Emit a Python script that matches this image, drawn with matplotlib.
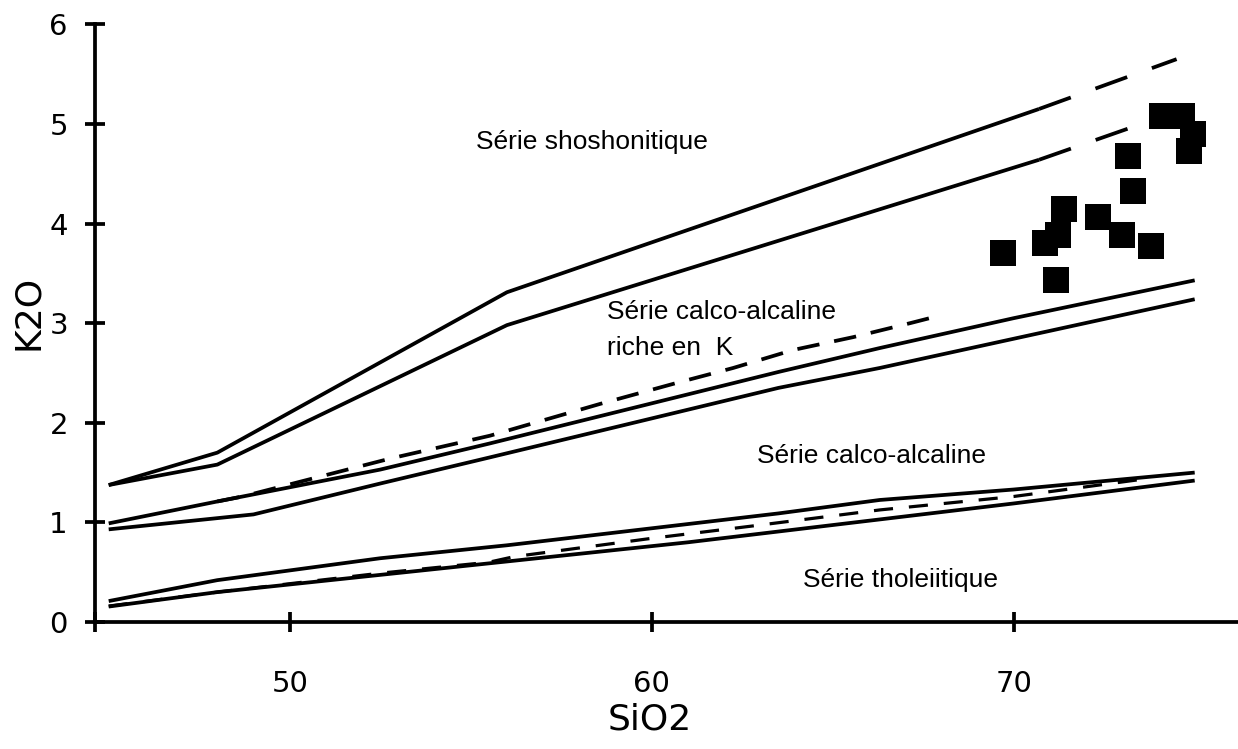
import matplotlib
matplotlib.use("Agg")
import matplotlib.pyplot as plt

# boundary lines (SiO2, K2O)
shosho_up_x = [45, 48, 56, 70.7]
shosho_up_y = [1.375, 1.70, 3.31, 5.15]
shosho_up_ext_x = [70.7, 74.5]
shosho_up_ext_y = [5.15, 5.65]

shosho_lo_x = [45, 48, 56, 70.7]
shosho_lo_y = [1.375, 1.58, 2.98, 4.64]
shosho_lo_ext_x = [70.7, 75.1]
shosho_lo_ext_y = [4.64, 5.2]

hk_up_x = [45, 48, 52.5, 55.5, 63.5, 66.3, 70, 75]
hk_up_y = [0.99, 1.21, 1.53, 1.79, 2.51, 2.75, 3.05, 3.43]
hk_lo_x = [45, 49, 52.5, 55.5, 63.5, 66.3, 75]
hk_lo_y = [0.93, 1.08, 1.39, 1.65, 2.35, 2.55, 3.24]
hk_dash_x = [48, 48.7, 52.77, 55.53, 58.58, 60.69, 62.25, 63.9, 65.57, 67.14, 68.0]
hk_dash_y = [1.21, 1.26, 1.64, 1.87, 2.19, 2.40, 2.55, 2.73, 2.86, 3.0, 3.08]

thol_up_x = [45, 48, 52.5, 56, 63.5, 66.3, 70, 75]
thol_up_y = [0.21, 0.42, 0.64, 0.77, 1.09, 1.225, 1.33, 1.50]
thol_lo_x = [45, 48, 61, 70, 75]
thol_lo_y = [0.155, 0.30, 0.80, 1.19, 1.42]
thol_dash_x = [45, 48, 52.5, 55.5, 56.2, 60, 62.7, 66.3, 70, 73.7]
thol_dash_y = [0.16, 0.30, 0.49, 0.60, 0.656, 0.84, 0.96, 1.125, 1.26, 1.44]

# samples
sio2 = [69.7, 70.87, 71.23, 71.39, 71.16, 72.34, 73.0, 73.8, 73.15, 73.3, 74.1, 74.65, 74.95, 74.85]
k2o = [3.70, 3.80, 3.88, 4.15, 3.43, 4.07, 3.88, 3.77, 4.68, 4.33, 5.08, 5.08, 4.90, 4.73]

labels = ["Série shoshonitique", "Série calco-alcaline\nriche en  K",
          "Série calco-alcaline", "Série tholeiitique"]
label_x = [476, 607, 757, 803]
label_y = [142, 330, 456, 580]

fig = plt.figure(figsize=(12.38, 7.49), dpi=100)
ax = fig.add_axes([95 / 1238, 1 - 622 / 749, 1 - 95 / 1238, (622 - 24.3) / 749])

lw = 2.7
solid = dict(color="black", lw=lw, solid_capstyle="butt")
ax.plot(shosho_up_x, shosho_up_y, **solid)
ax.plot(shosho_lo_x, shosho_lo_y, **solid)
ax.plot(shosho_up_ext_x, shosho_up_ext_y, color="black", lw=lw, dashes=(9, 7))
ax.plot(shosho_lo_ext_x, shosho_lo_ext_y, color="black", lw=lw, dashes=(9, 7))
ax.plot(hk_up_x, hk_up_y, **solid)
ax.plot(hk_lo_x, hk_lo_y, **solid)
ax.plot(hk_dash_x, hk_dash_y, color="black", lw=lw, dashes=(6, 4))
ax.plot(thol_up_x, thol_up_y, **solid)
ax.plot(thol_lo_x, thol_lo_y, **solid)
ax.plot(thol_dash_x, thol_dash_y, color="black", lw=lw * 0.85, dashes=(6, 5))

ax.plot(sio2, k2o, "s", color="black", markersize=19.4, markeredgewidth=0)

xmin = 50 - (289.7 - 95) / 36.2
xmax = 50 + (1238 - 289.7) / 36.2
ax.set_xlim(xmin, xmax)
ax.set_ylim(0, 6)

for s in ["top", "right"]:
    ax.spines[s].set_visible(False)
ax.spines["left"].set_linewidth(2.7)
ax.spines["bottom"].set_linewidth(2.7)

ax.set_xticks([xmin, 50, 60, 70])
ax.set_xticklabels(["", "50", "60", "70"])
ax.set_yticks(range(7))
ax.tick_params(axis="both", direction="inout", length=15, width=2.7,
               labelsize=21)
ax.tick_params(axis="x", pad=27)
ax.tick_params(axis="y", pad=12)

fig.text(650 / 1238, 1 - 720 / 749, "SiO2", fontsize=26, ha="center", va="center")
fig.text(28 / 1238, 1 - 312 / 749, "K2O", fontsize=26, ha="center", va="center",
         rotation=90)

for txt, px, py in zip(labels, label_x, label_y):
    fig.text(px / 1238, 1 - py / 749, txt, fontsize=19,
             family=["Liberation Sans", "DejaVu Sans"],
             ha="left", va="center", linespacing=1.6)

fig.savefig("out.png", dpi=100)
